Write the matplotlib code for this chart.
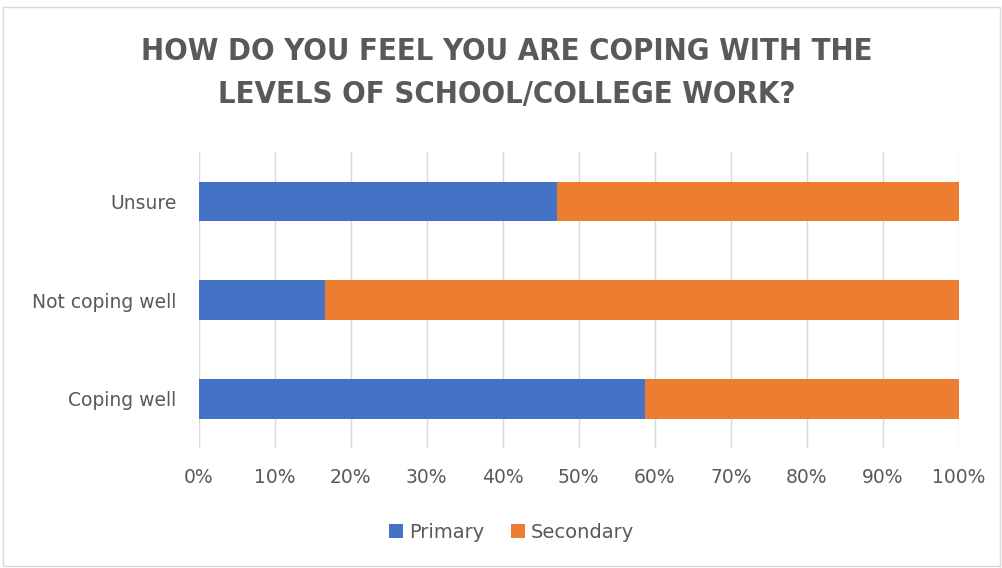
import matplotlib.pyplot as plt
from matplotlib.ticker import PercentFormatter
from matplotlib.patches import Rectangle

categories = ['Coping well', 'Not coping well', 'Unsure']
primary = [0.587, 0.166, 0.472]
secondary = [1 - p for p in primary]
xticks = [i / 10 for i in range(11)]

blue = '#4472C4'
orange = '#ED7D31'
txt = '#595959'

fig = plt.figure(figsize=(10.03, 5.68), dpi=100)
ax = fig.add_axes([0.198, 0.211, 0.758, 0.521])

ax.barh(categories, primary, height=0.4, color=blue, label='Primary', zorder=3)
ax.barh(categories, secondary, left=primary, height=0.4, color=orange, label='Secondary', zorder=3)

ax.set_xlim(0, 1)
ax.set_ylim(-0.5, 2.5)
ax.set_xticks(xticks)
ax.xaxis.set_major_formatter(PercentFormatter(1.0, decimals=0))
ax.grid(axis='x', color='#d9d9d9', linewidth=1, zorder=0)
for s in ax.spines.values():
    s.set_visible(False)
ax.tick_params(length=0, labelsize=13.5, colors=txt)
ax.tick_params(axis='y', pad=16)
ax.tick_params(axis='x', pad=14)

fig.text(0.505, 0.871, 'HOW DO YOU FEEL YOU ARE COPING WITH THE\nLEVELS OF SCHOOL/COLLEGE WORK?',
         ha='center', va='center', fontsize=22.2, fontweight='bold', color=txt,
         family='DejaVu Sans', fontstretch='condensed', linespacing=1.6)

fig.legend(loc='center', bbox_to_anchor=(0.51, 0.063), ncol=2, frameon=False,
           fontsize=14, labelcolor=txt, handlelength=0.7, handleheight=0.7,
           columnspacing=1.4, handletextpad=0.3)

fig.patches.append(Rectangle((0.003, 0.003), 0.994, 0.985, transform=fig.transFigure,
                             fill=False, edgecolor='#d9d9d9', linewidth=1))

fig.savefig('out.png', dpi=100)
